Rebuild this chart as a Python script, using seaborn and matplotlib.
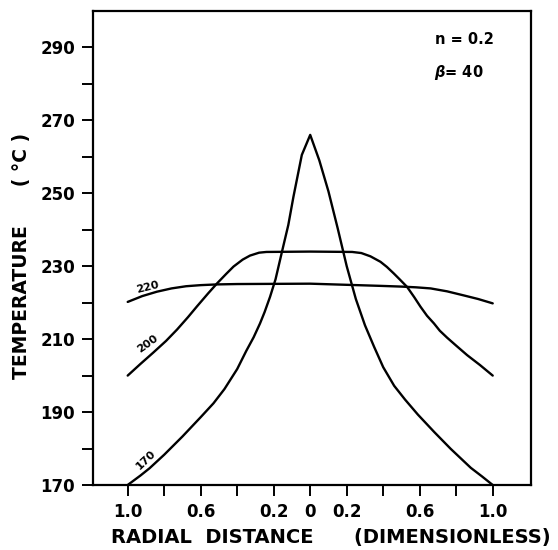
import matplotlib
matplotlib.use("Agg")
import matplotlib.pyplot as plt
import seaborn as sns
import pandas as pd

# ---- data ----
x_170 = [-1.0, -0.93, -0.88, -0.8, -0.7, -0.6, -0.53, -0.47, -0.4, -0.35, -0.31, -0.275,
         -0.25, -0.22, -0.19, -0.155, -0.12, -0.092, -0.046, 0.0,
         0.05, 0.1, 0.15, 0.2, 0.25, 0.3, 0.35, 0.4, 0.46,
         0.52, 0.59, 0.68, 0.77, 0.88, 0.94, 1.0]
t_170 = [170, 172.6, 174.6, 178.3, 183.3, 188.6, 192.4, 196.3, 201.8, 206.8, 210.5, 214.3,
         217.4, 221.6, 226.4, 233.9, 241.3, 249, 260.5, 266,
         259, 250.5, 240.5, 230, 221, 213.8, 207.9, 202.3, 197.2,
         193.4, 189.3, 184.5, 179.9, 174.7, 172.4, 170]

x_200 = [-1.0, -0.93, -0.86, -0.79, -0.73, -0.67, -0.62, -0.56, -0.51, -0.46, -0.42,
         -0.37, -0.33, -0.28, -0.24, 0.0, 0.23, 0.28, 0.33, 0.385, 0.42, 0.458, 0.49,
         0.531, 0.57, 0.604, 0.64, 0.678, 0.71, 0.75, 0.8, 0.86, 0.93, 1.0]
t_200 = [200, 203.2, 206.3, 209.5, 212.6, 216, 219, 222.5, 225.3, 227.9, 229.9,
         231.8, 232.9, 233.7, 233.9, 234, 233.9, 233.6, 232.7, 231.2, 229.8, 228, 226.4,
         224.3, 221.5, 218.9, 216.4, 214.3, 212.3, 210.4, 208.2, 205.6, 202.9, 200]

x_220 = [-1.0, -0.92, -0.84, -0.76, -0.68, -0.6, -0.51, -0.4, 0.0, 0.385, 0.5, 0.58,
         0.66, 0.75, 0.84, 0.92, 1.0]
t_220 = [220.2, 221.8, 223, 223.9, 224.5, 224.8, 225, 225.1, 225.2, 224.6, 224.4, 224.2,
         223.9, 223.1, 222, 221, 219.8]

curve_labels = ["170", "200", "220"]
x_ticks = [-1.0, -0.8, -0.6, -0.4, -0.2, 0.0, 0.2, 0.4, 0.6, 0.8, 1.0]
x_tick_labels = ["1.0", "", "0.6", "", "0.2", "0", "0.2", "", "0.6", "", "1.0"]
y_ticks = [170, 190, 210, 230, 250, 270, 290]
y_minor = [180, 200, 220, 240, 260, 280]

frames = []
for name, xs, ts in [("170", x_170, t_170), ("200", x_200, t_200), ("220", x_220, t_220)]:
    frames.append(pd.DataFrame({"r": xs, "T": ts, "curve": name}))
df = pd.concat(frames, ignore_index=True)

sns.set_theme(style="ticks")
plt.rcParams["font.family"] = ["DejaVu Sans"]
plt.rcParams["text.color"] = "black"

fig = plt.figure(figsize=(5.58, 5.50), dpi=100)
ax = fig.add_axes([0.1667, 0.1182, 0.785, 0.862])

sns.lineplot(data=df, x="r", y="T", hue="curve", units="curve", estimator=None,
             sort=False, palette={c: "black" for c in curve_labels},
             linewidth=1.7, legend=False, ax=ax)
for ln in ax.lines:
    ln.set_solid_joinstyle("round")
    ln.set_solid_capstyle("round")

ax.set_xlim(-1.19, 1.21)
ax.set_ylim(170, 300)
ax.set_xticks(x_ticks)
ax.set_xticklabels(x_tick_labels)
ax.set_yticks(y_ticks)
ax.set_yticks(y_minor, minor=True)
ax.tick_params(axis="both", which="both", direction="out", length=8, width=1.4,
               color="black", labelcolor="black", labelsize=12, pad=5)
for lab in ax.get_xticklabels() + ax.get_yticklabels():
    lab.set_fontweight("bold")
ax.set_xlabel("")
ax.set_ylabel("")
for sp in ax.spines.values():
    sp.set_visible(True)
    sp.set_linewidth(1.6)
    sp.set_color("black")

# curve labels
ax.text(-0.89, 224.3, "220", fontsize=8, fontweight="bold", rotation=14,
        ha="center", va="center", color="black")
ax.text(-0.89, 208.6, "200", fontsize=8, fontweight="bold", rotation=36,
        ha="center", va="center", color="black")
ax.text(-0.90, 176.8, "170", fontsize=8, fontweight="bold", rotation=44,
        ha="center", va="center", color="black")

# annotations
ax.text(0.849, 0.939, "n = 0.2", transform=ax.transAxes, fontsize=10.5,
        fontweight="bold", ha="center", va="center", color="black")
ax.text(0.836, 0.871, "$\\boldsymbol{\\beta}$= 40", transform=ax.transAxes, fontsize=10.5,
        fontweight="bold", ha="center", va="center", color="black")

# axis titles
fig.text(0.038, 1 - 256 / 550, "TEMPERATURE      ( °C )", rotation=90,
         fontsize=13.5, fontweight="bold", ha="center", va="center", color="black")
fig.text(0.593, 1 - 537 / 550, "RADIAL  DISTANCE      (DIMENSIONLESS)",
         fontsize=14, fontweight="bold", ha="center", va="center", color="black")

fig.savefig("out.png", dpi=100)
